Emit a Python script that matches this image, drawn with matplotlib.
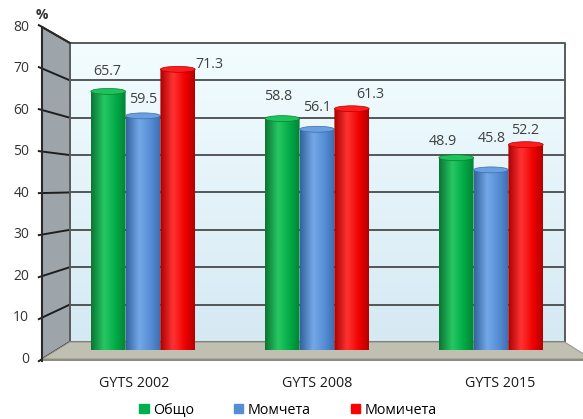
import numpy as np
import matplotlib.pyplot as plt
from matplotlib.patches import Polygon, Ellipse, PathPatch, Patch
from matplotlib.path import Path
from matplotlib.colors import LinearSegmentedColormap

plt.rcParams['font.family'] = ['Open Sans', 'DejaVu Sans']

surveys = ['GYTS 2002', 'GYTS 2008', 'GYTS 2015']
series = ['Общо', 'Момчета', 'Момичета']
obshto = [65.7, 58.8, 48.9]
momcheta = [59.5, 56.1, 45.8]
momicheta = [71.3, 61.3, 52.2]
yticks = [0, 10, 20, 30, 40, 50, 60, 70, 80]

# where each value label sits relative to the top of its cylinder (pixels)
label_shift = [[(-1, 20), (-4, 22), (-13, 16)],
               [(0, 16), (0, 22), (1, 31)],
               [(32, 5), (19, 14), (-1, 14)]]

legend_colors = ['#00b050', '#558ed5', '#ff0000']
shades = [['#0a7432', '#27c864', '#00aa46', '#078036'],
          ['#33629f', '#74a8e7', '#548cd4', '#3d6cad'],
          ['#a80000', '#ff3333', '#f00000', '#b20000']]
top_colors = ['#1fc35c', '#6b9fe0', '#ff1c1c']

W, H = 583, 419
fig = plt.figure(figsize=(W / 100, H / 100), dpi=100)

# pixel layer for the box (origin top-left)
bg = fig.add_axes([0, 0, 1, 1])
bg.set_xlim(0, W)
bg.set_ylim(H, 0)
bg.axis('off')

# data plane half way through the depth of the box
ax = fig.add_axes([56 / W, (H - 350.5) / H, 522 / W, 315.5 / H])
ax.patch.set_alpha(0)
ax.axis('off')
x0, x1 = -0.5, 2.5
ax.set_xlim(x0, x1)
ax.set_ylim(0, 80)

CX, CY = 320, 187


def proj(x, v, depth):
    # depth -1 = front, 0 = data plane, 1 = back
    px, py = ax.transData.transform((x, v))
    py = H - py
    s = 1 - 0.052 * depth
    return CX + s * (px - CX), CY + s * (py - CY)


left_wall = [proj(x0, 80, -1), proj(x0, 80, 1), proj(x0, 0, 1), proj(x0, 0, -1)]
back_wall = [proj(x0, 80, 1), proj(x1, 80, 1), proj(x1, 0, 1), proj(x0, 0, 1)]
floor = [proj(x0, 0, -1), proj(x0, 0, 1), proj(x1, 0, 1), proj(x1, 0, -1)]

# back wall with soft blue gradient
bw = Polygon(back_wall, closed=True, fc='none', ec='none')
bg.add_patch(bw)
grad = np.linspace(0, 1, 256).reshape(-1, 1)
wall_cmap = LinearSegmentedColormap.from_list('wall', ['#f3fdff', '#d5e9f3'])
(bl, bt), (br, bb) = back_wall[0], back_wall[2]
im = bg.imshow(grad, cmap=wall_cmap, extent=(bl, br, bb, bt), aspect='auto', zorder=1)
im.set_clip_path(bw)

bg.add_patch(Polygon(left_wall, closed=True, fc='#9da5aa', ec='none', zorder=1))

for v in yticks:
    xb0, yb0 = proj(x0, v, 1)
    xb1, yb1 = proj(x1, v, 1)
    xf, yf = proj(x0, v, -1)
    xt, yt = proj(x0, v, -1.25)
    if 0 < v < 80:
        bg.plot([xb0, xb1], [yb0, yb1], color='#3c3c3c', lw=1.2, zorder=2)
    bg.plot([xt, xb0], [yt, yb0], color='#1e1e1e', lw=1.4, zorder=2)
    bg.text(xf - 13, yf, str(v), ha='right', va='center', fontsize=10, color='#333333')

# floor slab
bg.add_patch(Polygon(floor, closed=True, fc='#c0c0b2', ec='#9a9a8c', lw=0.8, zorder=3))
fl, fr = floor[0], floor[3]
bg.add_patch(Polygon([fl, fr, (fr[0], fr[1] + 2), (fl[0], fl[1] + 2)], closed=True,
                     fc='#8c8c80', ec='none', zorder=3))

# box edges
bg.plot([p[0] for p in back_wall] + [back_wall[0][0]],
        [p[1] for p in back_wall] + [back_wall[0][1]], color='#5a5a5a', lw=1.4, zorder=2)
bg.plot([left_wall[0][0], left_wall[3][0]], [left_wall[0][1], left_wall[3][1] + 2],
        color='#2a2a2a', lw=1.5, zorder=4)
bg.plot([left_wall[0][0], left_wall[1][0]], [left_wall[0][1], left_wall[1][1]],
        color='#2a2a2a', lw=1.4, zorder=4)

bg.text(left_wall[0][0], 15, '%', ha='center', va='center', fontsize=10,
        fontweight='bold', color='#333333')

for i, name in enumerate(surveys):
    xf, yf = proj(i, 0, -1)
    bg.text(xf, yf + 24, name, ha='center', va='center', fontsize=10.3, color='#1a1a1a')

# cylinders
w = 0.2
eh = 1.5  # height of the end ellipses in value units


def cylinder(xc, v, stops, top, z):
    hw = w / 2
    t = np.linspace(np.pi, 2 * np.pi, 40)
    arc = np.column_stack([xc + hw * np.cos(t), eh / 2 * np.sin(t)])
    verts = np.vstack([[xc - hw, v], arc, [xc + hw, v], [xc - hw, v]])
    outline = PathPatch(Path(verts), fc='none', ec='none', transform=ax.transData)
    ax.add_patch(outline)
    cmap = LinearSegmentedColormap.from_list('cyl', list(zip([0, 0.38, 0.72, 1], stops)))
    body = ax.imshow(np.linspace(0, 1, 256).reshape(1, -1), cmap=cmap,
                     extent=(xc - hw, xc + hw, -eh / 2, v), aspect='auto',
                     interpolation='bicubic', zorder=z)
    body.set_clip_path(outline)
    ax.add_patch(Ellipse((xc, v), w, eh, fc=top, ec=stops[3], lw=0.5, zorder=z + 0.5))


groups = [obshto, momcheta, momicheta]
for j, vals in enumerate(groups):
    for i, v in enumerate(vals):
        xc = i + (j - 1) * w
        cylinder(xc, v, shades[j], top_colors[j], 3 + j)
        dx, dy = label_shift[j][i]
        ax.annotate(f'{v:.1f}', (xc, v), xytext=(dx, dy), textcoords='offset pixels',
                    ha='center', va='center', fontsize=10.3, color='#404040', zorder=10)

ax.set_xlim(x0, x1)
ax.set_ylim(0, 80)

handles = [Patch(color=c) for c in legend_colors]
fig.legend(handles, series, loc='center', bbox_to_anchor=(288 / W, 1 - 410 / H), ncol=3,
           frameon=False, fontsize=10.3, handlelength=0.65, handleheight=0.65,
           handletextpad=0.3, columnspacing=2.8)

fig.savefig('out.png', dpi=100)
